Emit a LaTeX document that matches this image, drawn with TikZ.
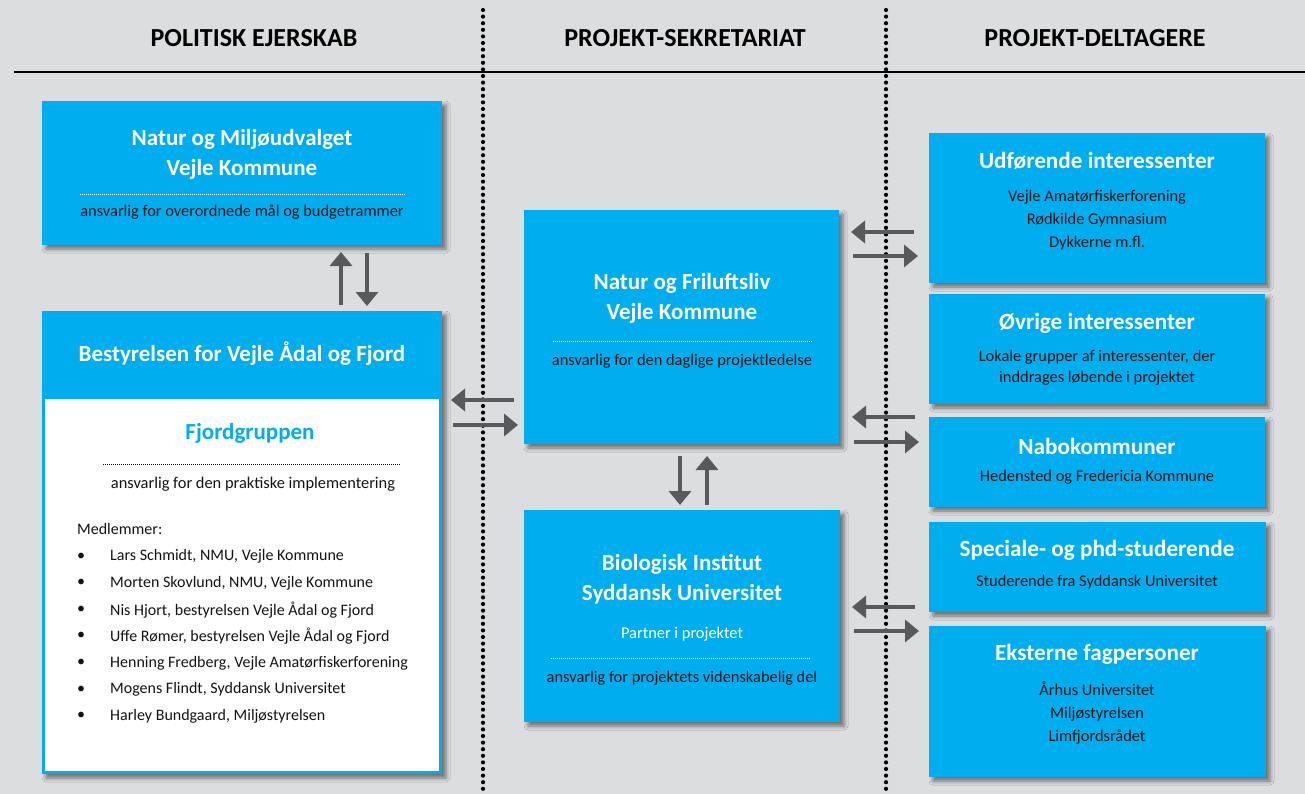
\documentclass[tikz,border=0pt]{standalone}
\usepackage{fontspec}
\setmainfont{Carlito}
\usetikzlibrary{arrows.meta,shadows.blur}
\definecolor{bg}{HTML}{DCDDDF}
\definecolor{cyanbox}{HTML}{00AEEF}
\definecolor{arrgray}{HTML}{58595B}
\definecolor{txt}{HTML}{141414}
\begin{document}
\begin{tikzpicture}[x=1pt,y=-1pt,
  box/.style={fill=cyanbox, anchor=north west, inner sep=0pt, outer sep=0pt,
    blur shadow={shadow xshift=4pt, shadow yshift=-4pt, shadow blur radius=4pt, shadow opacity=50}},
  ttl/.style={text=white, font=\fontsize{23}{30}\selectfont\bfseries, align=center, inner sep=0pt},
  rttl/.style={text=white, font=\fontsize{23.2}{26}\selectfont\bfseries, align=center, inner sep=0pt},
  sub/.style={text=txt, font=\fontsize{16.4}{23}\selectfont, align=center, inner sep=0pt},
  mem/.style={text=txt, font=\fontsize{16}{19}\selectfont, anchor=west, inner sep=0pt},
  hdr/.style={text=black, font=\fontsize{26}{30}\selectfont\bfseries, inner sep=0pt},
  arr/.style={draw=arrgray, line width=4pt, -{Triangle[length=14pt,width=22pt]}},
  wdots/.style={draw=white, line width=1pt, dash pattern=on 1pt off 1pt},
  kdots/.style={draw=txt, line width=1pt, dash pattern=on 1pt off 1pt},
  vdots/.style={draw=black, line width=4.2pt, line cap=round, dash pattern=on 0pt off 6.6pt},
]
\fill[bg] (0,0) rectangle (1305,794);
\useasboundingbox (0,0) rectangle (1305,794);

% headers
\node[hdr] (h1) at (254,38) {POLITISK EJERSKAB};
\node[hdr] (h2) at (685,38) {PROJEKT-SEKRETARIAT};
\node[hdr] (h3) at (1095,38) {PROJEKT-DELTAGERE};
\draw[line width=1.5pt] (14,72) -- (1305,72);
\draw[vdots] (483,10) -- (483,794);
\draw[vdots] (886,10) -- (886,794);

% left column
\node[box, minimum width=400pt, minimum height=144pt] (nm) at (42,101) {};
\node[ttl] (nmt) at (242,154) {Natur og Miljøudvalget\\Vejle Kommune};
\draw[wdots] (80,195) -- (406,195);
\node[sub] (nms) at (242,212) {ansvarlig for overordnede mål og budgetrammer};

\node[box, minimum width=400pt, minimum height=463pt] (best) at (42,311) {};
\fill[white] (45,399) rectangle (439,771);
\node[ttl] (bt) at (242,354) {Bestyrelsen for Vejle Ådal og Fjord};
\node[text=cyanbox, font=\fontsize{23}{26}\selectfont\bfseries, inner sep=0pt] (fj) at (250,433) {Fjordgruppen};
\draw[kdots] (103,464) -- (401,464);
\node[sub] (fjs) at (253,484) {ansvarlig for den praktiske implementering};
\node[mem] (medl) at (77,529) {Medlemmer:};
\foreach \i/\t in {0/{Lars Schmidt, NMU, Vejle Kommune},
                   1/{Morten Skovlund, NMU, Vejle Kommune},
                   2/{Nis Hjort, bestyrelsen Vejle Ådal og Fjord},
                   3/{Uffe Rømer, bestyrelsen Vejle Ådal og Fjord},
                   4/{Henning Fredberg, Vejle Amatørfiskerforening},
                   5/{Mogens Flindt, Syddansk Universitet},
                   6/{Harley Bundgaard, Miljøstyrelsen}} {
  \node[mem] (b\i) at (77,556.5+26.6*\i) {\textbullet};
  \node[mem] (m\i) at (110,556.5+26.6*\i) {\t};
}

% middle column
\node[box, minimum width=315pt, minimum height=234pt] (nf) at (524,210) {};
\node[ttl] (nft) at (682,298) {Natur og Friluftsliv\\Vejle Kommune};
\draw[wdots] (553,341) -- (812,341);
\node[sub] (nfs) at (682,361) {ansvarlig for den daglige projektledelse};

\node[box, minimum width=316pt, minimum height=212pt] (bio) at (524,510) {};
\node[ttl] (biot) at (682,579) {Biologisk Institut\\Syddansk Universitet};
\node[sub, text=white] (biop) at (682,634) {Partner i projektet};
\draw[wdots] (551,658) -- (811,658);
\node[sub] (bios) at (682,678) {ansvarlig for projektets videnskabelig del};

% right column
\node[box, minimum width=336pt, minimum height=150pt] (udf) at (929,133) {};
\node[rttl] (udft) at (1097,161) {Udførende interessenter};
\node[sub] (udfs) at (1097,220) {Vejle Amatørfiskerforening\\Rødkilde Gymnasium\\Dykkerne m.fl.};

\node[box, minimum width=336pt, minimum height=110pt] (ovr) at (929,294) {};
\node[rttl] (ovrt) at (1097,323) {Øvrige interessenter};
\node[sub, font=\fontsize{16.4}{21.5}\selectfont] (ovrs) at (1097,367.5) {Lokale grupper af interessenter, der\\inddrages løbende i projektet};

\node[box, minimum width=336pt, minimum height=90pt] (nabo) at (929,417) {};
\node[rttl] (nabot) at (1097,446) {Nabokommuner};
\node[sub] (nabos) at (1097,477) {Hedensted og Fredericia Kommune};

\node[box, minimum width=337pt, minimum height=90pt] (spe) at (929,522) {};
\node[rttl] (spet) at (1097,550) {Speciale- og phd-studerende};
\node[sub] (spes) at (1097,582) {Studerende fra Syddansk Universitet};

\node[box, minimum width=337pt, minimum height=151pt] (eks) at (929,626) {};
\node[rttl] (ekst) at (1097,654) {Eksterne fagpersoner};
\node[sub] (ekss) at (1097,713) {Århus Universitet\\Miljøstyrelsen\\Limfjordsrådet};

% arrow end points
\coordinate (a1s) at (341,305); \coordinate (a1e) at (341,252);
\coordinate (a2s) at (367,253); \coordinate (a2e) at (367,306);
\coordinate (a3s) at (514,400); \coordinate (a3e) at (451,400);
\coordinate (a4s) at (453,425); \coordinate (a4e) at (518,425);
\coordinate (a5s) at (680,456); \coordinate (a5e) at (680,505);
\coordinate (a6s) at (707,505); \coordinate (a6e) at (707,456);
\coordinate (a7s) at (914,232); \coordinate (a7e) at (851,232);
\coordinate (a8s) at (853,256); \coordinate (a8e) at (918,256);
\coordinate (a9s) at (915,417); \coordinate (a9e) at (852,417);
\coordinate (a10s) at (854,442); \coordinate (a10e) at (919,442);
\coordinate (a11s) at (915,607); \coordinate (a11e) at (852,607);
\coordinate (a12s) at (854,631); \coordinate (a12e) at (919,631);
\foreach \k in {1,...,12} { \draw[arr] (a\k s) -- (a\k e); }
\end{tikzpicture}
\end{document}
